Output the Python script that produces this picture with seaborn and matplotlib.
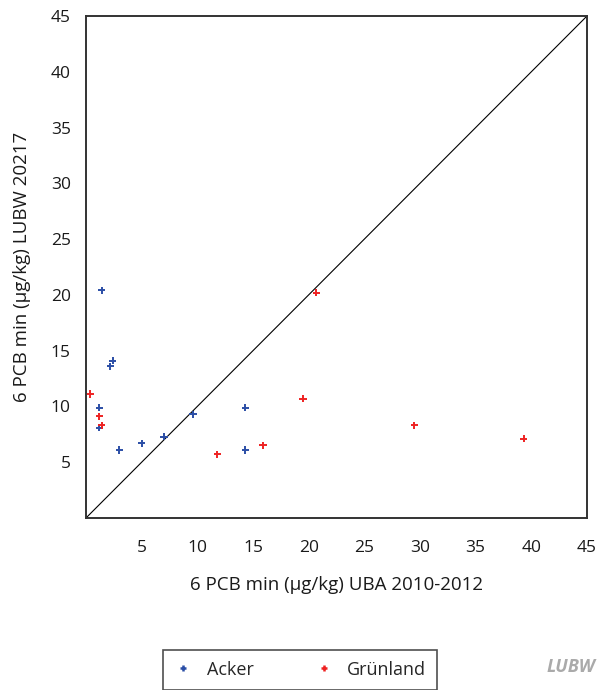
import matplotlib
matplotlib.use("Agg")
import matplotlib.pyplot as plt
import seaborn as sns
import pandas as pd

# Data
acker_x = [1.4, 2.2, 2.4, 1.2, 1.2, 3.0, 5.0, 7.0, 9.6, 14.3, 14.3]
acker_y = [20.4, 13.6, 14.1, 9.9, 8.1, 6.1, 6.7, 7.3, 9.3, 9.9, 6.1]
gruen_x = [0.4, 1.2, 1.4, 11.8, 15.9, 19.5, 20.7, 29.5, 39.3]
gruen_y = [11.1, 9.1, 8.3, 5.7, 6.5, 10.7, 20.2, 8.3, 7.1]
groups = ["Acker", "Grünland"]
ticks = [0, 5, 10, 15, 20, 25, 30, 35, 40, 45]
tick_labels = ["", "5", "10", "15", "20", "25", "30", "35", "40", "45"]
xlabel = "6 PCB min (µg/kg) UBA 2010-2012"
ylabel = "6 PCB min (µg/kg) LUBW 20217"

df = pd.DataFrame({
    "x": acker_x + gruen_x,
    "y": acker_y + gruen_y,
    "g": [groups[0]] * len(acker_x) + [groups[1]] * len(gruen_x),
})

sns.set_style("white")
plt.rcParams["font.family"] = ["Open Sans", "DejaVu Sans"]

fig = plt.figure(figsize=(5.98, 6.9), dpi=100)
ax = fig.add_axes([0.1438, 0.2493, 0.8378, 0.7275])

palette = {"Acker": "#2b4ea6", "Grünland": "#ee2222"}
sns.scatterplot(data=df, x="x", y="y", hue="g", palette=palette, marker="+",
                s=28, linewidth=1.4, ax=ax, legend=False, zorder=3)

ax.plot([0, 45], [0, 45], color="black", lw=0.8, zorder=2)

ax.set_xlim(0, 45)
ax.set_ylim(0, 45)
ax.set_xticks(ticks)
ax.set_xticklabels(tick_labels)
ax.set_yticks(ticks)
ax.set_yticklabels(tick_labels)
ax.tick_params(axis="both", direction="out", length=7, width=1.4, color="#333333",
               labelsize=12.5, labelcolor="#1a1a1a", pad=4)
ax.tick_params(axis="x", pad=9)
for s in ax.spines.values():
    s.set_color("#333333")
    s.set_linewidth(1.4)
ax.set_xlabel(xlabel, fontsize=13.5, color="#1a1a1a", labelpad=14)
ax.set_ylabel(ylabel, fontsize=13.5, color="#1a1a1a", labelpad=14)

from matplotlib.lines import Line2D
handles = [Line2D([], [], ls="none", marker="+", color=palette[g], markersize=5,
                  markeredgewidth=1.8) for g in groups]
leg = fig.legend(handles, groups, loc="upper center", bbox_to_anchor=(0.502, 0.058),
                 ncol=2, frameon=True, fancybox=False, edgecolor="#222222",
                 fontsize=13, handlelength=1.0, handletextpad=0.8,
                 columnspacing=3.4, borderpad=0.6, borderaxespad=0)
leg.get_frame().set_linewidth(1.2)

fig.text(0.995, 0.033, "LUBW", color="#aaaaaa", fontsize=13, fontweight="bold",
         fontstyle="italic", ha="right", va="center")

fig.savefig("out.png", dpi=100)
